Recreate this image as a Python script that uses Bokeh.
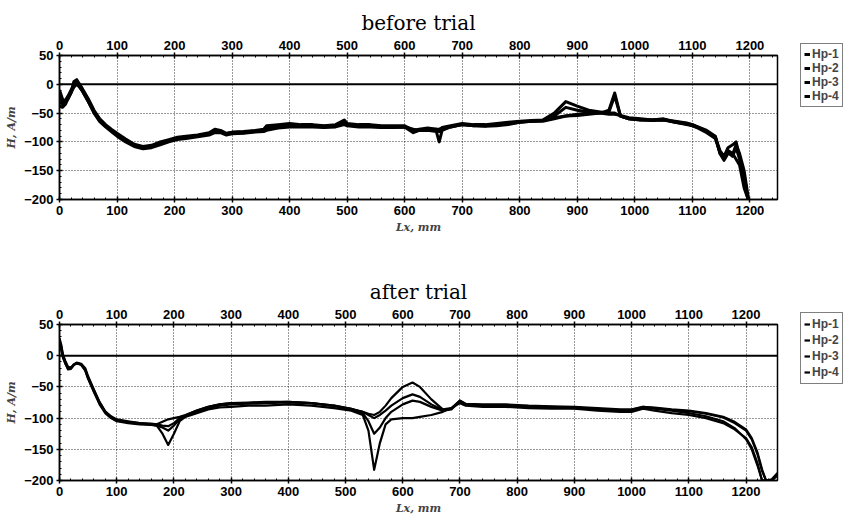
from bokeh.plotting import figure
from bokeh.models import (Range1d, LinearAxis, SingleIntervalTicker, Span, Legend,
                          LegendItem, Title)
from bokeh.layouts import column
from bokeh.embed import file_html
from bokeh.resources import INLINE

# ---------------- data: before trial ----------------
x_before = [0, 5, 10, 15, 20, 25, 30, 35, 40, 50, 60, 70, 80, 90, 100, 115, 130, 145, 160, 175,
            190, 205, 220, 240, 260, 270, 280, 290, 300, 320, 340, 355, 360, 380, 400, 420, 440,
            460, 480, 495, 500, 520, 540, 560, 580, 600, 615, 625, 640, 655, 660, 665, 680, 700,
            720, 740, 760, 780, 800, 820, 840, 860, 880, 900, 920, 940, 955, 965, 975, 990, 1010,
            1030, 1050, 1070, 1090, 1100, 1110, 1125, 1140, 1148, 1155, 1162, 1170, 1176, 1182,
            1190, 1197]
before_hp1 = [-10, -25, -30, -25, -15, 5, 8, 0, -8, -25,
              -45, -60, -70, -78, -85, -95, -104, -108, -106, -100,
              -96, -92, -90, -88, -84, -78, -80, -85, -83, -82,
              -80, -78, -72, -70, -68, -70, -70, -72, -70, -62,
              -68, -70, -70, -72, -72, -72, -80, -78, -76, -78,
              -80, -75, -72, -68, -70, -70, -68, -66, -64, -63,
              -62, -50, -30, -38, -45, -48, -50, -50, -55, -60,
              -62, -62, -60, -65, -68, -70, -75, -82, -92, -115,
              -125, -110, -105, -100, -125, -170, -200]
before_hp2 = [-20, -30, -28, -20, -10, 0, 5, -2, -10, -28,
              -48, -63, -72, -80, -88, -98, -106, -110, -108, -103,
              -98, -94, -92, -89, -86, -82, -82, -86, -84, -83,
              -81, -80, -75, -72, -70, -72, -72, -73, -72, -66,
              -70, -72, -72, -74, -74, -74, -78, -80, -78, -80,
              -82, -78, -74, -70, -72, -72, -70, -68, -65, -64,
              -63, -55, -40, -45, -48, -50, -52, -52, -54, -58,
              -60, -62, -62, -64, -67, -70, -74, -80, -90, -120,
              -128, -115, -120, -130, -140, -180, -200]
before_hp3 = [-30, -35, -30, -22, -12, -2, 2, -5, -12, -30,
              -50, -65, -74, -82, -90, -100, -108, -112, -110, -105,
              -100, -96, -94, -91, -88, -84, -84, -88, -86, -85,
              -83, -82, -80, -76, -74, -74, -74, -75, -74, -70,
              -72, -74, -74, -75, -75, -74, -82, -80, -78, -78,
              -78, -76, -73, -70, -71, -73, -72, -70, -66, -64,
              -64, -60, -55, -52, -50, -50, -45, -15, -55, -60,
              -62, -62, -61, -66, -70, -72, -76, -84, -94, -118,
              -130, -118, -125, -110, -130, -160, -200]
before_hp4 = [-38, -40, -35, -25, -15, -5, 0, -5, -12, -30,
              -48, -62, -72, -80, -87, -97, -106, -110, -108, -103,
              -98, -94, -92, -90, -86, -80, -82, -86, -84, -84,
              -82, -80, -76, -72, -70, -72, -72, -74, -72, -68,
              -70, -72, -73, -74, -74, -74, -84, -80, -80, -82,
              -100, -80, -74, -70, -72, -72, -70, -68, -66, -64,
              -63, -58, -55, -54, -52, -50, -48, -20, -55, -60,
              -61, -63, -62, -66, -69, -71, -75, -82, -92, -120,
              -132, -120, -122, -105, -120, -150, -195]

# ---------------- data: after trial ----------------
x_after = [0, 3, 6, 10, 15, 20, 25, 30, 38, 45, 50, 60, 70, 80, 90, 100, 120, 140, 160, 170,
           180, 190, 200, 210, 220, 240, 260, 280, 300, 330, 360, 400, 440, 480, 510, 530, 540,
           550, 560, 570, 580, 600, 617, 630, 650, 670, 685, 700, 710, 740, 780, 820, 860, 900,
           940, 980, 1000, 1020, 1040, 1070, 1100, 1130, 1160, 1180, 1200, 1210, 1220, 1228,
           1235, 1245, 1255]
after_hp1 = [25, 15, 0, -10, -20, -20, -15, -12, -14, -22,
             -35, -55, -75, -90, -98, -103, -106, -108, -110, -112,
             -125, -143, -125, -105, -98, -92, -86, -83, -82, -80,
             -80, -78, -80, -84, -88, -95, -120, -183, -140, -110,
             -102, -100, -100, -98, -95, -90, -84, -76, -80, -82,
             -82, -84, -85, -85, -88, -90, -90, -85, -88, -92,
             -95, -100, -108, -118, -132, -147, -172, -200, -200, -198,
             -188]
after_hp2 = [22, 12, -2, -12, -22, -21, -15, -12, -15, -24,
             -37, -58, -78, -92, -100, -105, -108, -110, -111, -112,
             -115, -120, -112, -102, -97, -90, -84, -80, -78, -77,
             -76, -75, -76, -80, -85, -92, -105, -125, -115, -100,
             -90, -78, -72, -74, -82, -88, -86, -73, -78, -80,
             -80, -82, -83, -84, -86, -88, -88, -83, -85, -88,
             -92, -97, -105, -116, -134, -150, -176, -200, -200, -200,
             -190]
after_hp3 = [28, 18, 2, -8, -18, -19, -14, -11, -13, -20,
             -33, -54, -74, -89, -97, -102, -105, -108, -109, -110,
             -112, -113, -108, -100, -96, -88, -82, -78, -76, -76,
             -75, -74, -76, -80, -85, -90, -95, -100, -95, -88,
             -80, -68, -62, -66, -78, -87, -85, -72, -78, -80,
             -80, -81, -82, -83, -85, -87, -87, -82, -84, -87,
             -89, -93, -99, -108, -120, -134, -158, -185, -200, -200,
             -190]
after_hp4 = [20, 10, -3, -12, -21, -20, -14, -12, -14, -23,
             -36, -57, -76, -91, -99, -104, -107, -109, -110, -110,
             -106, -102, -100, -98, -95, -88, -82, -78, -76, -75,
             -74, -74, -76, -81, -86, -90, -93, -95, -90, -80,
             -68, -50, -43, -50, -70, -86, -84, -72, -77, -78,
             -78, -80, -81, -82, -84, -86, -86, -82, -83, -86,
             -88, -92, -98, -106, -118, -132, -155, -182, -200, -200,
             -192]

series_names = ["Hp-1", "Hp-2", "Hp-3", "Hp-4"]
x_tick_step = 100
y_tick_step = 50

TICK_FONT = "Liberation Sans"


def style_axis(ax):
    ax.axis_line_color = "black"
    ax.axis_line_width = 1.5
    ax.major_tick_line_color = "black"
    ax.major_tick_line_width = 1.5
    ax.major_tick_in = 3
    ax.major_tick_out = 3
    ax.minor_tick_line_color = "black"
    ax.minor_tick_in = 2
    ax.minor_tick_out = 0
    ax.major_label_text_font = TICK_FONT
    ax.major_label_text_font_size = "13px"
    ax.major_label_text_font_style = "bold"
    ax.major_label_text_color = "black"
    ax.major_label_standoff = 3


def make_panel(title, xs, ys_list, x_end, frame_h, top_b, bottom_b, lw, leg_row, leg_vy):
    p = figure(frame_width=718, frame_height=frame_h,
               x_range=Range1d(0, x_end), y_range=Range1d(-200, 50),
               output_backend="svg", toolbar_location=None,
               min_border_left=59, min_border_right=68,
               min_border_top=top_b, min_border_bottom=bottom_b)
    p.outline_line_color = "black"
    p.outline_line_width = 1.5
    p.background_fill_color = "white"
    p.border_fill_color = "white"

    xt = SingleIntervalTicker(interval=x_tick_step, num_minor_ticks=5)
    yt = SingleIntervalTicker(interval=y_tick_step, num_minor_ticks=5)
    p.xaxis.ticker = xt
    p.yaxis.ticker = yt
    for ax in p.xaxis + p.yaxis:
        style_axis(ax)
    p.xaxis.axis_label = "Lx, mm"
    p.yaxis.axis_label = "H, A/m"
    for ax in p.xaxis + p.yaxis:
        ax.axis_label_text_font = "DejaVu Serif"
        ax.axis_label_text_font_style = "bold italic"
        ax.axis_label_text_font_size = "11px"
        ax.axis_label_standoff = 3

    top = LinearAxis(ticker=SingleIntervalTicker(interval=x_tick_step, num_minor_ticks=5))
    style_axis(top)
    p.add_layout(top, "above")
    p.add_layout(Title(text=title, align="center", text_font="DejaVu Serif",
                       text_font_size="20px", text_font_style="normal",
                       text_color="black", standoff=6, offset=9), "above")

    p.xgrid.ticker = xt
    p.ygrid.ticker = yt
    for g in (p.xgrid, p.ygrid):
        g.grid_line_color = "black"
        g.grid_line_dash = "1 2"
        g.grid_line_width = 1
        g.grid_line_alpha = 0.8

    p.add_layout(Span(location=0, dimension="width", line_color="black", line_width=2))

    items = []
    for name, ys in zip(series_names, ys_list):
        r = p.line(xs, ys, line_color="black", line_width=lw, line_join="round")
        items.append(LegendItem(label=name, renderers=[r]))
    leg = Legend(items=items, location=(23, leg_vy), glyph_width=6, glyph_height=leg_row,
                 label_height=leg_row, label_standoff=2, padding=3, spacing=0, margin=0,
                 border_line_color="black", border_line_width=1.5,
                 label_text_font=TICK_FONT, label_text_font_size="12px",
                 label_text_font_style="bold", background_fill_color="white",
                 background_fill_alpha=1.0)
    p.add_layout(leg, "right")
    return p


p1 = make_panel("before trial", x_before, [before_hp1, before_hp2, before_hp3, before_hp4],
                1248, 144, 55, 51, 3.0, 14, 92)
p2 = make_panel("after trial", x_after, [after_hp1, after_hp2, after_hp3, after_hp4],
                1255, 156, 74, 40, 2.2, 16, 96)

layout = column(p1, p2, spacing=0)
open("out.html", "w").write(file_html(layout, INLINE))
